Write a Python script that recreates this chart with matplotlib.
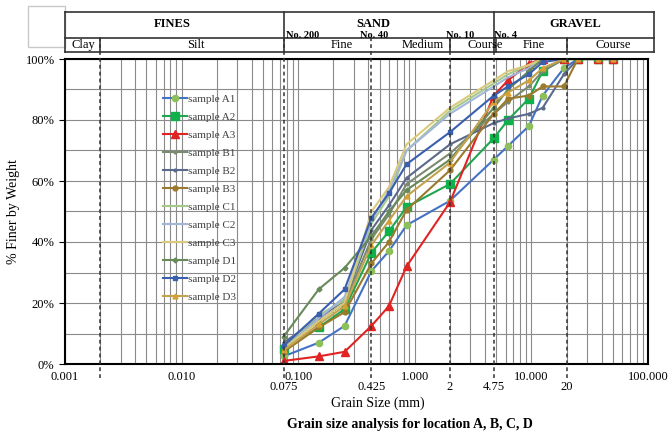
import numpy as np
import matplotlib
matplotlib.use("Agg")
import matplotlib.pyplot as plt
from matplotlib.transforms import blended_transform_factory
from matplotlib.ticker import FixedLocator, FuncFormatter, NullFormatter

plt.rcParams['font.family'] = ['Liberation Serif', 'DejaVu Serif']

# sieve sizes (mm)
sieves = [0.075, 0.15, 0.25, 0.425, 0.6, 0.85, 2, 4.75, 6.3, 9.5, 12.5, 19, 25, 37.5, 50]

sample_A1 = [2.5, 7, 12.5, 30.5, 37, 45.5, 53.5, 67, 71.5, 78, 88, 97, 100, 100, 100]
sample_A2 = [5, 12, 18, 36.5, 43.5, 51.5, 59, 74, 80, 87, 96, 100, 100, 100, 100]
sample_A3 = [1, 2.5, 4, 12.5, 19, 32, 53, 88, 93, 98.5, 100, 100, 100, 100, 100]
sample_B1 = [6, 14, 20, 41, 49, 59, 69, 82, 86, 91, 96, 100, 100, 100, 100]
sample_B2 = [7, 15, 21, 44, 52, 61, 72, 79, 80.5, 82, 84, 95, 100, 100, 100]
sample_B3 = [4, 12, 17, 33, 40, 50.5, 63.5, 82, 87, 88, 91, 91, 100, 100, 100]
sample_C1 = [6, 16, 21, 46, 55, 70, 83, 92, 95, 98, 100, 100, 100, 100, 100]
sample_C2 = [5, 15, 22, 47, 57, 70, 82, 91, 94, 97, 100, 100, 100, 100, 100]
sample_C3 = [5, 14, 20, 50, 58, 72, 84, 93, 96, 98, 100, 100, 100, 100, 100]
sample_D1 = [9, 24.5, 31.5, 42, 50, 57, 67, 84, 90, 96, 100, 100, 100, 100, 100]
sample_D2 = [6, 16.5, 24.5, 48, 56, 65.5, 76, 88, 91, 95, 99, 100, 100, 100, 100]
sample_D3 = [4.5, 13, 19, 39, 47, 55, 66, 86, 89, 93, 97, 100, 100, 100, 100]

series_names = ['sample A1', 'sample A2', 'sample A3', 'sample B1', 'sample B2', 'sample B3',
                'sample C1', 'sample C2', 'sample C3', 'sample D1', 'sample D2', 'sample D3']
series_values = [sample_A1, sample_A2, sample_A3, sample_B1, sample_B2, sample_B3,
                 sample_C1, sample_C2, sample_C3, sample_D1, sample_D2, sample_D3]

# boundary sizes (mm)
boundaries = [0.002, 0.075, 0.425, 2, 4.75, 20]
boundary_labels = ['0.075', '0.425', '2', '4.75', '20']
major_ticks = [0.001, 0.01, 0.1, 1, 10, 100]

styles = [
    dict(color='#4472C4', marker='o', mfc='#8DBF5A', mec='#8DBF5A', ms=4.5),
    dict(color='#22A550', marker='s', mfc='#10B04A', mec='#10B04A', ms=5.5),
    dict(color='#E02424', marker='^', mfc='#E02424', mec='#E02424', ms=5.5),
    dict(color='#7C8A70', marker='o', mfc='#7C8A70', mec='#7C8A70', ms=2),
    dict(color='#5B6A8C', marker='o', mfc='#5B6A8C', mec='#5B6A8C', ms=2),
    dict(color='#9A7A2C', marker='o', mfc='#9A7A2C', mec='#9A7A2C', ms=3.5),
    dict(color='#A6C98A', marker=None),
    dict(color='#A3B6DA', marker=None),
    dict(color='#D9CA7C', marker=None),
    dict(color='#678A58', marker='D', mfc='#678A58', mec='#678A58', ms=2.5),
    dict(color='#3A5FAF', marker='s', mfc='#3A5FAF', mec='#3A5FAF', ms=3.5),
    dict(color='#C4A24E', marker='^', mfc='#D8A030', mec='#D8A030', ms=3.5),
]

W, H = 671, 436
fig = plt.figure(figsize=(W / 100, H / 100), dpi=100)
L, R, B, T = 65, 648, 364, 59
ax = fig.add_axes([L / W, 1 - B / H, (R - L) / W, (B - T) / H])

ax.set_xscale('log')
ax.set_xlim(0.001, 100)
ax.set_ylim(0, 100)

# grid
ax.xaxis.set_major_locator(FixedLocator(major_ticks))
minors = [m * 10.0 ** e for e in range(-3, 2) for m in range(2, 10)]
ax.xaxis.set_minor_locator(FixedLocator(minors))
ax.xaxis.set_minor_formatter(NullFormatter())
ax.xaxis.set_major_formatter(FuncFormatter(lambda v, p: f"{v:.3f}"))
ax.set_yticks(np.arange(0, 101, 20))
ax.set_yticks(np.arange(0, 101, 10), minor=True)
ax.yaxis.set_major_formatter(FuncFormatter(lambda v, p: f"{int(v)}%"))
ax.grid(True, which='both', axis='both', color='#8A8A8A', lw=0.8)
ax.set_axisbelow(True)
ax.tick_params(axis='x', which='both', length=0, labelsize=9, pad=5)
ax.tick_params(axis='y', which='major', length=4, labelsize=9, direction='out')
ax.tick_params(axis='y', which='minor', length=0)
for s in ax.spines.values():
    s.set_linewidth(1.5)

for name, vals, st in zip(series_names, series_values, styles):
    ax.plot(sieves, vals, lw=1.5, label=name, **st)

trans = blended_transform_factory(ax.transData, ax.transAxes)

# dashed boundaries
for bx in boundaries:
    ax.plot([bx, bx], [-0.045, 1.069], transform=trans, color='#333333', lw=1.1,
            ls=(0, (2.5, 2)), clip_on=False, zorder=3)

# secondary x labels
for bx, lab in zip(boundaries[1:], boundary_labels):
    ax.text(bx, -0.075, lab, transform=trans, ha='center', va='center', fontsize=9)

ax.set_xlabel('Grain Size (mm)', fontsize=10, labelpad=0)
ax.xaxis.set_label_coords(0.537, -0.105)
ax.set_ylabel('% Finer by Weight', fontsize=10)
ax.yaxis.set_label_coords(-0.078, 0.5)
ax.text(0.592, -0.197, 'Grain size analysis for location A, B, C, D', transform=ax.transAxes,
        ha='center', va='center', fontsize=10, fontweight='bold')

# header table
y_top, y_mid, y_bot = 1.154, 1.069, 1.023
x_right = 10 ** (-3 + 1.0103 * 5)
lk = dict(transform=trans, color='#333333', lw=1.2, clip_on=False)
ax.plot([0.001, x_right], [y_top, y_top], **lk)
ax.plot([0.001, x_right], [y_mid, y_mid], **lk)
ax.plot([0.001, x_right], [y_bot, y_bot], **lk)
ax.plot([0.001, 0.001], [y_bot, y_top], **lk)
ax.plot([x_right, x_right], [y_bot, y_top], **lk)
for bx in [0.075, 4.75]:
    ax.plot([bx, bx], [y_bot, y_top], **lk)
for bx in [0.002, 2, 20]:
    ax.plot([bx, bx], [y_bot, y_mid], **lk)
ax.plot([5.0, 5.0], [y_bot, y_mid], **lk)

# blank box top-left
ax.add_patch(plt.Rectangle((-0.0635, 1.039), 0.0635, 0.135, transform=ax.transAxes,
                           fill=False, ec='#C8C8C8', lw=1.0, clip_on=False))

hdr = dict(transform=trans, ha='center', va='center', fontsize=9, fontweight='bold', clip_on=False)
ax.text(10 ** -2.08, 1.115, 'FINES', **hdr)
ax.text(10 ** -0.36, 1.115, 'SAND', **hdr)
ax.text(10 ** 1.38, 1.115, 'GRAVEL', **hdr)

sub = dict(transform=trans, ha='center', va='center', fontsize=9, clip_on=False)
ax.text(10 ** -2.84, 1.046, 'Clay', **sub)
ax.text(10 ** -1.88, 1.046, 'Silt', **sub)
ax.text(10 ** -0.63, 1.046, 'Fine', **sub)
ax.text(10 ** 0.07, 1.046, 'Medium', **sub)
ax.text(10 ** 0.60, 1.046, 'Course', **sub)
ax.text(10 ** 1.02, 1.046, 'Fine', **sub)
ax.text(10 ** 1.70, 1.046, 'Course', **sub)

no = dict(transform=trans, ha='left', va='bottom', fontsize=7.5, fontweight='bold', clip_on=False)
ax.text(0.079, 1.062, 'No. 200', **no)
ax.text(0.34, 1.062, 'No. 40', **no)
ax.text(1.85, 1.062, 'No. 10', **no)
ax.text(4.8, 1.062, 'No. 4', **no)

leg = ax.legend(loc='upper left', bbox_to_anchor=(0.16, 0.9), frameon=False, fontsize=8,
                labelspacing=0.74, handlelength=2.2, handletextpad=0.1, borderaxespad=0)
for t in leg.get_texts():
    t.set_color('#404040')

fig.savefig('out.png', dpi=100)
